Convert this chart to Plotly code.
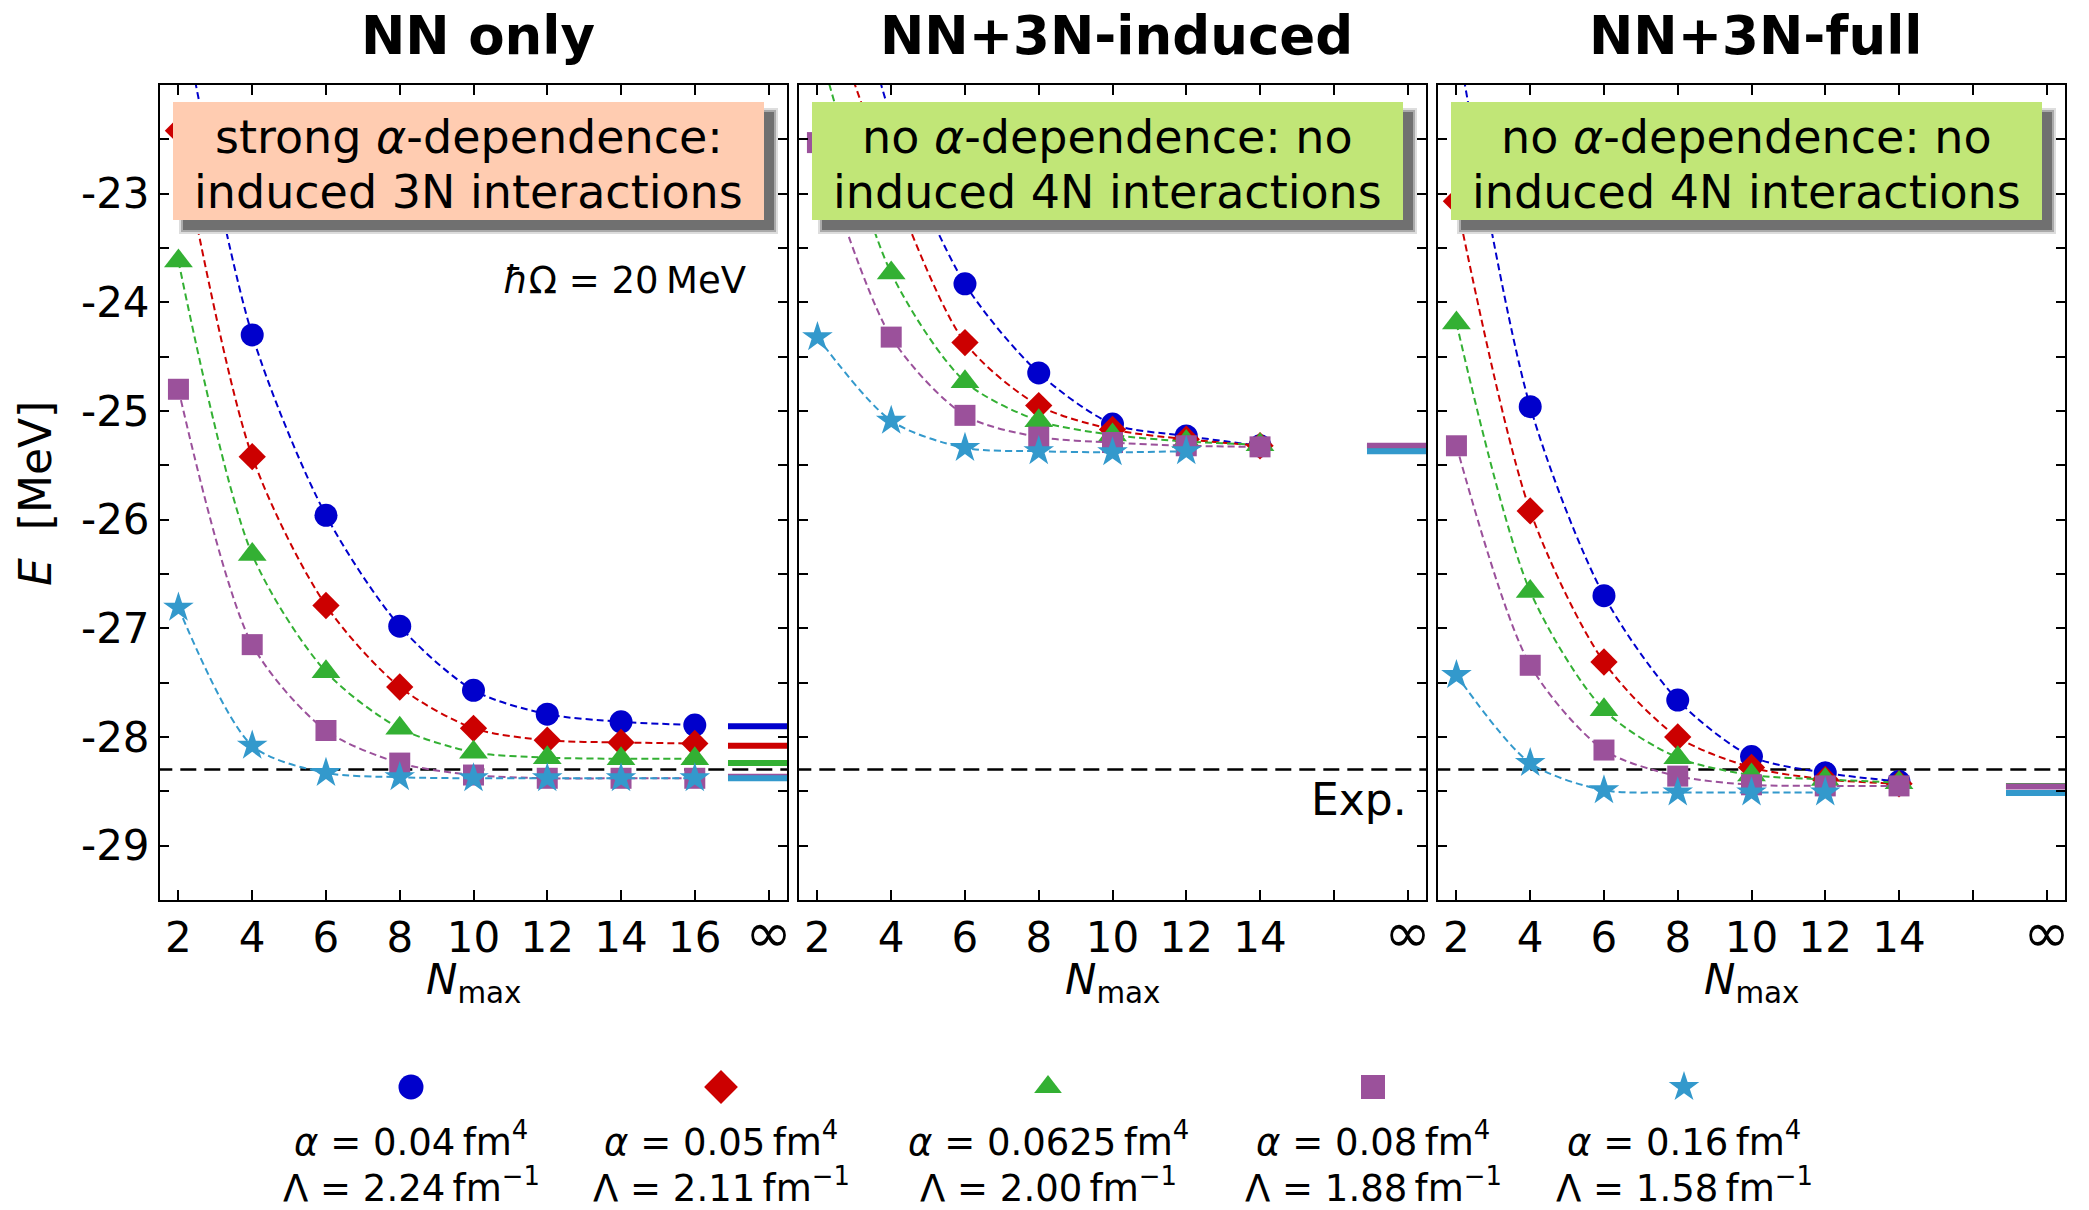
import plotly.graph_objects as go

W, H = 2089, 1210

# ---------------- data ----------------
nmax_p1 = [2, 4, 6, 8, 10, 12, 14, 16]
nmax_p2 = [2, 4, 6, 8, 10, 12, 14]
nmax_star = [2, 4, 6, 8, 10, 12]

alphas = ["0.04", "0.05", "0.0625", "0.08", "0.16"]
lambdas = ["2.24", "2.11", "2.00", "1.88", "1.58"]

# NN only
nn_a1 = [-21.17, -24.30, -25.96, -26.98, -27.57, -27.79, -27.86, -27.89]
nn_a2 = [-22.42, -25.42, -26.79, -27.54, -27.92, -28.03, -28.05, -28.06]
nn_a3 = [-23.62, -26.32, -27.40, -27.92, -28.14, -28.19, -28.20, -28.20]
nn_a4 = [-24.80, -27.15, -27.94, -28.24, -28.35, -28.38, -28.38, -28.38]
nn_a5 = [-26.81, -28.08, -28.33, -28.37, -28.38, -28.38, -28.38, -28.38]
nn_inf = [-27.90, -28.08, -28.24, -28.365, -28.38]

# NN+3N-induced
ind_a1 = [-19.50, -22.30, -23.83, -24.65, -25.12, -25.23, -25.32]
ind_a2 = [-21.00, -22.90, -24.37, -24.95, -25.17, -25.26, -25.32]
ind_a3 = [-21.60, -23.73, -24.73, -25.09, -25.22, -25.28, -25.31]
ind_a4 = [-22.53, -24.32, -25.04, -25.24, -25.29, -25.32, -25.33]
ind_a5 = [-24.32, -25.09, -25.34, -25.37, -25.38, -25.37]
ind_inf = [-25.33, -25.33, -25.33, -25.32, -25.37]

# NN+3N-full
full_a1 = [-21.55, -24.96, -26.70, -27.66, -28.18, -28.33, -28.41]
full_a2 = [-23.07, -25.92, -27.31, -28.00, -28.28, -28.39, -28.43]
full_a3 = [-24.19, -26.66, -27.75, -28.19, -28.35, -28.39, -28.42]
full_a4 = [-25.32, -27.34, -28.12, -28.36, -28.44, -28.45, -28.45]
full_a5 = [-27.43, -28.24, -28.49, -28.51, -28.51, -28.51]
full_inf = [-28.45, -28.45, -28.45, -28.455, -28.515]

e_exp = -28.30

panel_titles = ["NN only", "NN+3N-induced", "NN+3N-full"]
box_texts = [
    ("strong <i>α</i>-dependence:", "induced 3N interactions"),
    ("no <i>α</i>-dependence: no", "induced 4N interactions"),
    ("no <i>α</i>-dependence: no", "induced 4N interactions"),
]
box_colors = ["#FFCCB1", "#C1E677", "#C1E677"]

INF = "<span style='font-size:56px'>∞</span>"
x_tickvals = [2, 4, 6, 8, 10, 12, 14, 16, 18]
x_ticktext_p1 = ["2", "4", "6", "8", "10", "12", "14", "16", INF]
x_ticktext_p23 = ["2", "4", "6", "8", "10", "12", "14", "", INF]
y_tickvals = [-29.5 + 0.5 * k for k in range(16)]
y_labelled = [-23, -24, -25, -26, -27, -28, -29]

# ---------------- style ----------------
colors = ["#0000CC", "#CC0000", "#33B033", "#9B519B", "#3399CC"]
symbols = ["circle", "diamond", "triangle-up", "square", "star"]
msizes = [23, 21, 25, 21, 23]
leg_sizes = [25, 26, 24, 24, 23]
FONT = "DejaVu Sans"
TS = "\u2009"  # thin space

panels = [
    (nmax_p1, [nn_a1, nn_a2, nn_a3, nn_a4, nn_a5], [nmax_p1] * 5, nn_inf),
    (nmax_p2, [ind_a1, ind_a2, ind_a3, ind_a4, ind_a5], [nmax_p2] * 4 + [nmax_star], ind_inf),
    (nmax_p2, [full_a1, full_a2, full_a3, full_a4, full_a5], [nmax_p2] * 4 + [nmax_star], full_inf),
]

# panel pixel geometry
px_left = [160, 799, 1438]
px_w = 627
py_top, py_bot = 85, 900


def fx(px):
    return px / W


def fy(py):
    return 1 - py / H


fig = go.Figure()

for p, (nm, series, xs, inf) in enumerate(panels):
    xa = "x" if p == 0 else f"x{p+1}"
    ya = "y" if p == 0 else f"y{p+1}"
    fig.add_trace(go.Scatter(x=[1.4, 18.6], y=[e_exp, e_exp], mode="lines",
                             line=dict(color="black", width=2.5, dash="16px,8px"),
                             xaxis=xa, yaxis=ya, showlegend=False, hoverinfo="skip"))
    for i in range(5):
        fig.add_trace(go.Scatter(
            x=xs[i], y=series[i], mode="lines+markers",
            line=dict(color=colors[i], width=2, dash="7px,4px", shape="spline", smoothing=0.8),
            marker=dict(symbol=symbols[i], size=msizes[i], color=colors[i], line=dict(width=0)),
            xaxis=xa, yaxis=ya, showlegend=False, cliponaxis=True))
    for i in range(5):
        fig.add_trace(go.Scatter(
            x=[16.9, 18.6], y=[inf[i], inf[i]], mode="lines",
            line=dict(color=colors[i], width=6),
            xaxis=xa, yaxis=ya, showlegend=False, hoverinfo="skip"))

# custom legend (marker above two text lines)
leg_px = [411, 721, 1048, 1373, 1684]
for i in range(5):
    fig.add_trace(go.Scatter(
        x=[leg_px[i]], y=[1087], mode="markers",
        marker=dict(symbol=symbols[i], size=leg_sizes[i], color=colors[i], line=dict(width=0)),
        xaxis="x4", yaxis="y4", showlegend=False, cliponaxis=False))

layout = dict(
    width=W, height=H,
    margin=dict(l=0, r=0, t=0, b=0, autoexpand=False),
    paper_bgcolor="white", plot_bgcolor="white",
    font=dict(family=FONT, size=42, color="black"),
)

for p in range(3):
    xk = "xaxis" if p == 0 else f"xaxis{p+1}"
    yk = "yaxis" if p == 0 else f"yaxis{p+1}"
    layout[xk] = dict(
        domain=[fx(px_left[p]), fx(px_left[p] + px_w)],
        range=[1.5, 18.5], tickvals=x_tickvals,
        ticktext=x_ticktext_p1 if p == 0 else x_ticktext_p23,
        ticks="inside", ticklen=10, tickwidth=2, tickcolor="black",
        showline=True, linewidth=2, linecolor="black", mirror="allticks",
        showgrid=False, zeroline=False, automargin=False,
        anchor="y" if p == 0 else f"y{p+1}",
        tickfont=dict(family=FONT, size=42),
    )
    layout[yk] = dict(
        domain=[fy(py_bot), fy(py_top)],
        range=[-29.5, -22.0], tickvals=y_tickvals,
        ticktext=[("-%d" % round(-v)) if round(v) in y_labelled and abs(v - round(v)) < 1e-9 else ""
                  for v in y_tickvals],
        showticklabels=(p == 0),
        ticks="inside", ticklen=9, tickwidth=2, tickcolor="black",
        showline=True, linewidth=2, linecolor="black", mirror="allticks",
        showgrid=False, zeroline=False, automargin=False,
        anchor="x" if p == 0 else f"x{p+1}",
        tickfont=dict(family=FONT, size=42),
    )

layout["xaxis4"] = dict(domain=[0, 1], range=[0, W], visible=False, anchor="y4",
                        fixedrange=True, automargin=False)
layout["yaxis4"] = dict(domain=[0, fy(1000)], range=[H, 1000], visible=False, anchor="x4",
                        fixedrange=True, automargin=False)

shapes = []
annotations = []

for p in range(3):
    cx = px_left[p] + px_w / 2
    annotations.append(dict(x=fx(cx + 4), y=fy(36), xref="paper", yref="paper",
                            text="<b>%s</b>" % panel_titles[p], showarrow=False,
                            font=dict(family=FONT, size=53, color="black"),
                            xanchor="center", yanchor="middle"))
    annotations.append(dict(x=fx(cx), y=fy(982), xref="paper", yref="paper",
                            text="<i>N</i><sub>max</sub>", showarrow=False,
                            font=dict(family=FONT, size=42, color="black"),
                            xanchor="center", yanchor="middle"))
    bx0 = px_left[p] + 13
    bx1 = bx0 + 591
    by0, by1 = 102, 220
    for (off, grow, col) in [(10, 4, "#dddddd"), (10, 2, "#aaaaaa"), (10, 0, "#707070")]:
        shapes.append(dict(type="rect", xref="paper", yref="paper", layer="above",
                           x0=fx(bx0 + off - grow), x1=fx(bx1 + off + grow),
                           y0=fy(by1 + off + grow), y1=fy(by0 + off - grow),
                           fillcolor=col, line=dict(width=0)))
    shapes.append(dict(type="rect", xref="paper", yref="paper", layer="above",
                       x0=fx(bx0), x1=fx(bx1), y0=fy(by1), y1=fy(by0),
                       fillcolor=box_colors[p], line=dict(width=0)))
    bcx = (bx0 + bx1) / 2
    for k, (line_txt, yy) in enumerate(zip(box_texts[p], [137, 192])):
        annotations.append(dict(x=fx(bcx), y=fy(yy), xref="paper", yref="paper",
                                text=line_txt, showarrow=False,
                                font=dict(family=FONT, size=46, color="black"),
                                xanchor="center", yanchor="middle"))

annotations.append(dict(x=fx(748), y=fy(280), xref="paper", yref="paper",
                        text="<i>ħ</i>Ω = 20" + TS + "MeV", showarrow=False,
                        font=dict(family=FONT, size=37, color="black"),
                        xanchor="right", yanchor="middle"))
annotations.append(dict(x=fx(1409), y=fy(799), xref="paper", yref="paper",
                        text="Exp.", showarrow=False,
                        font=dict(family=FONT, size=44, color="black"),
                        xanchor="right", yanchor="middle"))
annotations.append(dict(x=fx(35), y=fy(494), xref="paper", yref="paper",
                        text="<i>E</i>  [MeV]", showarrow=False, textangle=-90,
                        font=dict(family=FONT, size=44, color="black"),
                        xanchor="center", yanchor="middle"))
for i in range(5):
    annotations.append(dict(x=fx(leg_px[i]), y=fy(1139), xref="paper", yref="paper",
                            text="<i>α</i> = %s%sfm<sup>4</sup>" % (alphas[i], TS), showarrow=False,
                            font=dict(family=FONT, size=37, color="black"),
                            xanchor="center", yanchor="middle"))
    annotations.append(dict(x=fx(leg_px[i]), y=fy(1185), xref="paper", yref="paper",
                            text="Λ = %s%sfm<sup>−1</sup>" % (lambdas[i], TS), showarrow=False,
                            font=dict(family=FONT, size=37, color="black"),
                            xanchor="center", yanchor="middle"))

layout["shapes"] = shapes
layout["annotations"] = annotations
fig.update_layout(**layout)
fig.write_html("out.html", config={"displayModeBar": False},
               post_script="document.body.style.margin='0';document.body.style.overflow='hidden';")
